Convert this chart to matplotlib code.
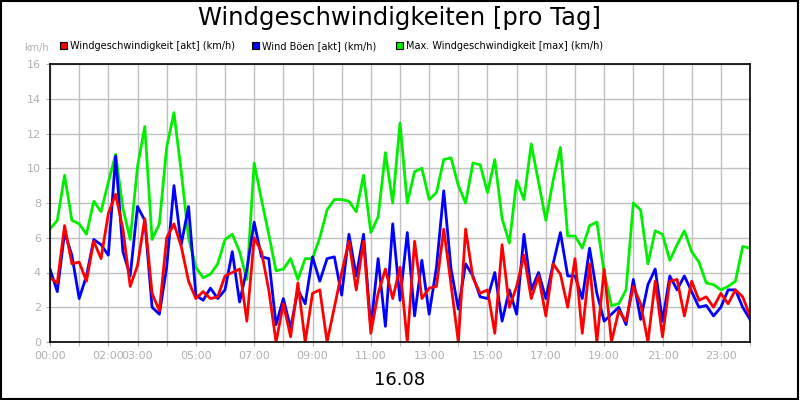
import matplotlib
matplotlib.use("Agg")
import matplotlib.pyplot as plt
import numpy as np

step_h = 0.25
max_speed = [6.5,7.0,9.6,7.0,6.8,6.2,8.1,7.5,9.2,10.8,7.7,5.9,10.1,12.4,5.9,6.8,11.2,13.2,9.8,6.0,
             4.3,3.7,3.9,4.5,5.9,6.2,5.2,3.6,10.3,8.2,6.2,4.1,4.2,4.8,3.6,4.8,4.8,6.0,7.6,8.2,
             8.2,8.1,7.5,9.6,6.3,7.2,10.9,8.0,
             12.6,8.0,9.8,10.0,8.2,8.6,10.5,10.6,9.0,8.0,10.3,10.2,8.6,10.5,7.1,5.7,9.3,8.2,11.4,9.2,
             7.0,9.3,11.2,6.1,6.1,5.4,6.7,6.9,4.0,2.1,2.2,3.0,8.0,7.6,4.5,6.4,6.2,4.7,5.6,6.4,
             5.2,4.6,3.4,3.3,3.0,3.2,3.5,5.5,5.4]
gust = [4.2,2.9,6.3,5.0,2.5,3.8,5.9,5.6,5.0,10.7,5.2,3.8,7.8,7.0,2.0,1.6,4.3,9.0,5.6,7.8,
        2.7,2.4,3.1,2.5,3.0,5.2,2.3,4.2,6.9,4.9,4.8,1.0,2.5,0.8,3.0,2.2,4.9,3.5,4.8,4.9,
        2.7,6.2,3.8,6.2,0.8,4.8,0.9,6.8,
        2.4,6.3,1.5,4.7,1.6,4.3,8.7,4.2,1.9,4.5,3.8,2.6,2.5,4.0,1.2,3.0,1.6,6.2,3.0,4.0,
        2.5,4.5,6.3,3.8,3.8,2.5,5.4,2.8,1.2,1.6,2.0,1.0,3.6,1.3,3.3,4.2,1.2,3.8,3.0,3.8,
        2.9,2.0,2.1,1.5,2.0,3.0,3.0,2.0,1.3]
speed = [3.7,3.4,6.7,4.5,4.6,3.5,5.8,4.8,7.4,8.5,6.5,3.2,4.4,7.1,2.8,1.8,6.0,6.8,5.5,3.5,
         2.5,2.9,2.5,2.6,3.8,4.0,4.2,1.2,6.0,5.2,3.0,0.0,2.2,0.3,3.4,0.0,2.8,3.0,0.0,2.0,
         4.0,5.8,3.0,5.8,0.5,2.8,4.2,2.5,
         4.3,0.0,5.8,2.5,3.1,3.2,6.5,3.3,0.0,6.5,3.7,2.8,3.0,0.5,5.6,2.0,3.2,5.0,2.5,3.8,
         1.5,4.5,3.9,2.0,4.8,0.5,4.5,0.0,4.2,0.0,1.8,1.2,3.2,2.2,0.0,3.5,0.3,3.5,3.6,1.5,
         3.5,2.4,2.6,2.0,2.8,2.2,3.0,2.6,1.5]
tick_hours = [0,2,3,5,7,9,11,13,15,17,19,21,23]
tick_labels = ["%02d:00" % h for h in tick_hours]
legend_labels = ["Windgeschwindigkeit [akt] (km/h)", "Wind Böen [akt] (km/h)",
                 "Max. Windgeschwindigkeit [max] (km/h)"]

t = np.arange(len(speed)) * step_h

fig = plt.figure(figsize=(8, 4), dpi=100)
fig.patches.append(plt.Rectangle((0.001, 0.002), 0.997, 0.996, transform=fig.transFigure,
                                 fill=False, edgecolor="black", linewidth=1.5))
ax = fig.add_axes([0.0625, 0.145, 0.875, 0.695])
ax.plot(t, max_speed, color="#00ee00", lw=2)
ax.plot(t, gust, color="#0000ff", lw=2)
ax.plot(t, speed, color="#ff0000", lw=2)
ax.set_xlim(0, 24)
ax.set_ylim(0, 16)
ax.set_yticks(range(0, 17, 2))
ax.set_xticks(range(0, 25), minor=True)
ax.set_xticks(tick_hours)
ax.set_xticklabels(tick_labels)
ax.grid(True, which="both", color="#c0c0c0", lw=1)
ax.set_axisbelow(True)
ax.tick_params(colors="#b0b0b0", labelsize=8, length=3)
ax.tick_params(which="minor", length=3, color="#b0b0b0")
for s in ax.spines.values():
    s.set_linewidth(1.2)

fig.text(0.5, 0.955, "Windgeschwindigkeiten [pro Tag]", ha="center", va="center", fontsize=17.5)
fig.text(0.045, 0.88, "km/h", ha="center", va="center", fontsize=7, color="#b0b0b0")
fig.text(0.5, 0.05, "16.08", ha="center", va="center", fontsize=13)
colors = ["#ff0000", "#0000ff", "#00ee00"]
xs = [0.075, 0.315, 0.495]
for x, c, lab in zip(xs, colors, legend_labels):
    fig.patches.append(plt.Rectangle((x, 0.877), 0.009, 0.018, transform=fig.transFigure,
                                     facecolor=c, edgecolor="black", lw=0.8))
    fig.text(x + 0.013, 0.886, lab, va="center", fontsize=7)

fig.savefig("out.png", dpi=100)
